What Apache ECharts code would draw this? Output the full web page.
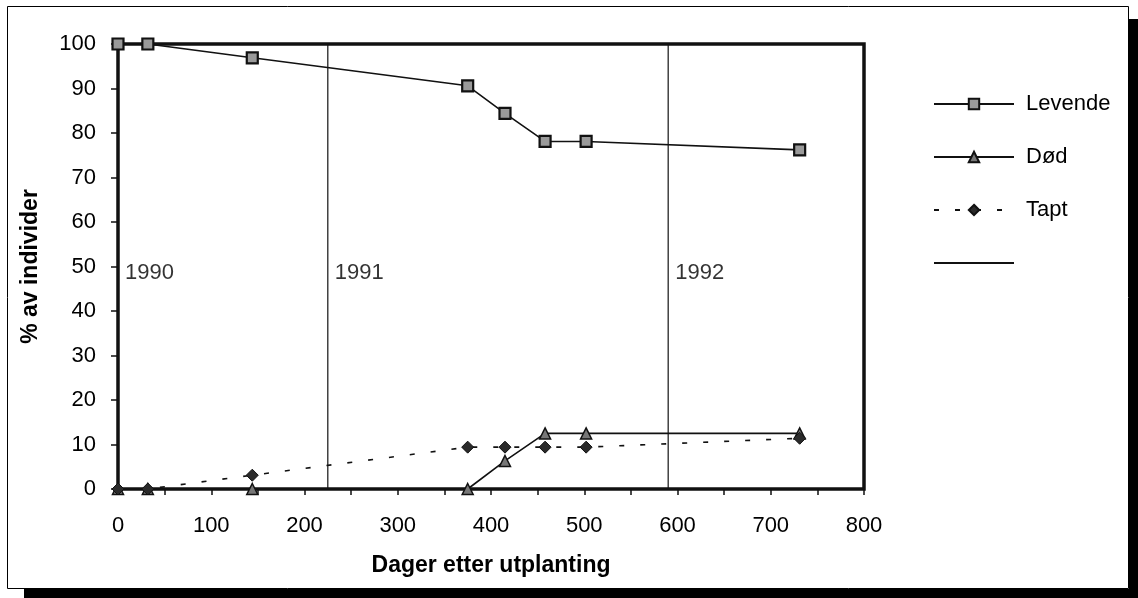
<!DOCTYPE html>
<html>
<head>
<meta charset="utf-8">
<script src="https://cdn.jsdelivr.net/npm/echarts@6/dist/echarts.min.js"></script>
<style>
html,body{margin:0;padding:0;background:#fff;}
#c{width:1138px;height:598px;}
</style>
</head>
<body>
<div id="c"></div>
<script>
// ---- data ----
var days      = [0, 32, 144, 375, 415, 458, 502, 731];
var levende   = [100, 100, 96.9, 90.6, 84.4, 78.1, 78.1, 76.2];
var dod       = [0, 0, 0, 0, 6.3, 12.5, 12.5, 12.5];
var tapt      = [0, 0, 3.1, 9.4, 9.4, 9.4, 9.4, 11.4];
var yearLineDays = [225, 590];
var yearLabels   = ['1990', '1991', '1992'];
var yearLabelDays = [0, 225, 590];
var yearLabelLevel = 48.5;
var seriesNames = ['Levende', 'Død', 'Tapt', '\u00a0'];
var xTitle = 'Dager etter utplanting';
var yTitle = '% av individer';

function pairs(xs, ys){ return xs.map(function(x,i){ return [x, ys[i]]; }); }
var yearLineData = [];
yearLineDays.forEach(function(d, i){
  if (i > 0) yearLineData.push([null, null]);
  yearLineData.push([d, 0]); yearLineData.push([d, 100]);
});
var yearLabelData = yearLabelDays.map(function(d, i){ return [d, yearLabelLevel, yearLabels[i]]; });

var FONT = 'Liberation Sans, Arial, Helvetica, sans-serif';
var chart = echarts.init(document.getElementById('c'), null, {renderer:'canvas'});
chart.setOption({
  animation: false,
  backgroundColor: '#fff',
  textStyle: {fontFamily: FONT, color: '#000'},
  graphic: [
    {type:'rect', shape:{x:1129, y:19, width:9, height:579}, style:{fill:'#000'}, z:-1},
    {type:'rect', shape:{x:24, y:589, width:1114, height:9}, style:{fill:'#000'}, z:-1},
    {type:'rect', shape:{x:7.5, y:6.5, width:1121, height:582}, style:{fill:'none', stroke:'#000', lineWidth:1}, z:-1}
  ],
  grid: {left:118, right:274, top:44, bottom:109, show:true, borderColor:'#111', borderWidth:3.5, backgroundColor:'transparent'},
  legend: {
    orient:'vertical', left:928, top:88, itemWidth:80, itemHeight:13, itemGap:31,
    data: [
      {name: seriesNames[0]},
      {name: seriesNames[1]},
      {name: seriesNames[2]},
      {name: seriesNames[3], itemStyle:{opacity:0}}
    ],
    textStyle:{fontSize:22, fontFamily:FONT, color:'#000', padding:[0,0,0,7]},
    selectedMode:false
  },
  xAxis: {
    type:'value', min:0, max:800, interval:50,
    name: xTitle, nameLocation:'middle', nameGap:65,
    nameTextStyle:{fontSize:23, fontWeight:'bold', fontFamily:FONT, color:'#000'},
    axisLine:{show:false},
    axisTick:{show:true, inside:false, length:6, lineStyle:{color:'#111', width:1.5}},
    axisLabel:{fontSize:22, margin:26, color:'#000', fontFamily:FONT,
      formatter:function(v){ return v % 100 === 0 ? String(v) : ''; }},
    splitLine:{show:false}
  },
  yAxis: {
    type:'value', min:0, max:100, interval:10,
    name: yTitle, nameLocation:'middle', nameGap:76, nameRotate:90,
    nameTextStyle:{fontSize:23, fontWeight:'bold', fontFamily:FONT, color:'#000'},
    axisLine:{show:false},
    axisTick:{show:true, inside:false, length:7, lineStyle:{color:'#111', width:1.5}},
    axisLabel:{fontSize:22, margin:22, color:'#000', fontFamily:FONT},
    splitLine:{show:false}
  },
  series: [
    {name:seriesNames[3], type:'line', data:yearLineData, symbol:'none', connectNulls:false,
     lineStyle:{color:'#111', width:1.2}, itemStyle:{color:'#111'}, z:1, silent:true},
    {name:seriesNames[0], type:'line', data:pairs(days, levende), symbol:'rect', symbolSize:11,
     lineStyle:{color:'#111', width:1.6}, itemStyle:{color:'#9a9a9a', borderColor:'#111', borderWidth:2.2}, z:3},
    {name:seriesNames[1], type:'line', data:pairs(days, dod), symbol:'triangle', symbolSize:11,
     lineStyle:{color:'#111', width:1.6}, itemStyle:{color:'#777', borderColor:'#111', borderWidth:1.5}, z:3},
    {name:seriesNames[2], type:'line', data:pairs(days, tapt), symbol:'diamond', symbolSize:12,
     lineStyle:{color:'#111', width:1.6, type:[5,16]}, itemStyle:{color:'#2a2a2a', borderColor:'#111', borderWidth:1}, z:4},
    {name:'years', type:'scatter', data:yearLabelData, symbolSize:0, silent:true,
     label:{show:true, position:'right', distance:7, fontSize:22, fontFamily:FONT, color:'#000',
       formatter:function(p){ return p.data[2]; }}, z:5}
  ]
});
</script>
</body>
</html>
